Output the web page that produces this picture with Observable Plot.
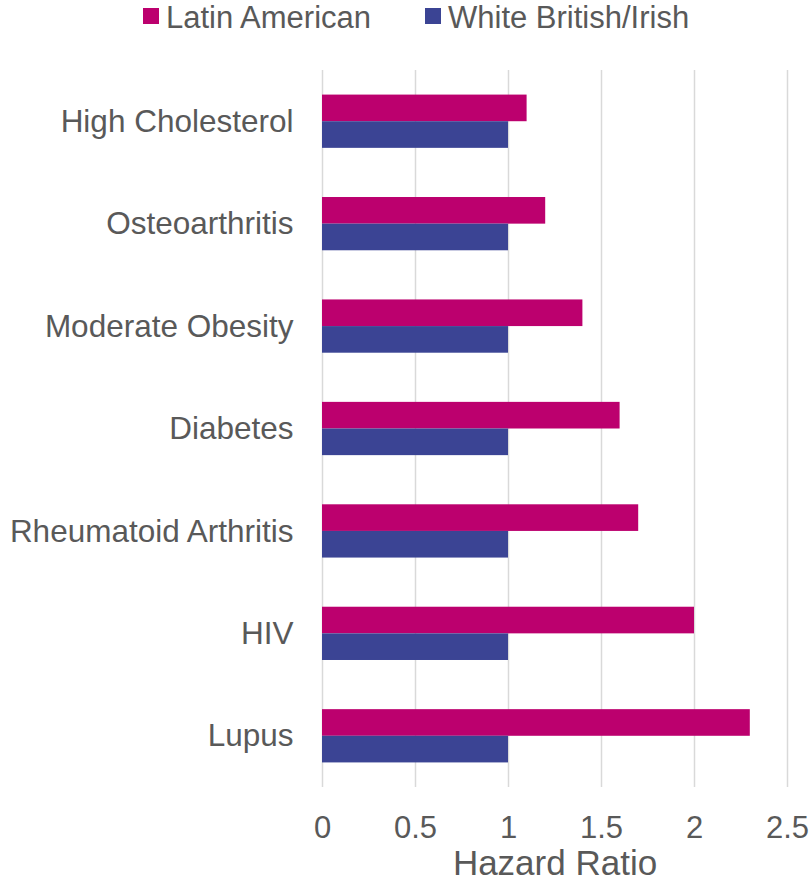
<!DOCTYPE html>
<html>
<head>
<meta charset="utf-8">
<script src="https://cdn.jsdelivr.net/npm/d3@7"></script>
<script src="https://cdn.jsdelivr.net/npm/@observablehq/plot@0.6"></script>
<style>
  html, body { margin: 0; padding: 0; background: #fff; }
  #chart { width: 810px; height: 888px; position: relative; font-family: "Liberation Sans", Arial, sans-serif; color: #595959; }
  #legend { position: relative; height: 40px; }
  #legend .sw { position: absolute; top: 8px; width: 16px; height: 16px; }
  #legend .lb { position: absolute; top: 2px; font-size: 31px; line-height: 1; white-space: nowrap; }
  svg { display: block; }
</style>
</head>
<body>
<div id="chart">
  <div id="legend"></div>
</div>
<script>
// Conditions, top to bottom
const conditions = ["High Cholesterol", "Osteoarthritis", "Moderate Obesity", "Diabetes", "Rheumatoid Arthritis", "HIV", "Lupus"];
// Hazard ratios per group
const latinAmerican = [1.1, 1.2, 1.4, 1.6, 1.7, 2.0, 2.3];
const whiteBritishIrish = [1, 1, 1, 1, 1, 1, 1];
const groups = ["Latin American", "White British/Irish"];
const groupColors = ["#bc006e", "#3b4494"];
const xTicks = [0, 0.5, 1, 1.5, 2, 2.5];

// Each condition occupies one row index; the two bars sit just above and below it
const barHalf = 0.26;
const rows = [];
conditions.forEach((c, i) => {
  rows.push({condition: c, group: groups[0], value: latinAmerican[i], y1: i - barHalf, y2: i});
  rows.push({condition: c, group: groups[1], value: whiteBritishIrish[i], y1: i, y2: i + barHalf});
});

// Legend
const legend = document.getElementById("legend");
const legendLayout = [{sw: 143, lb: 166}, {sw: 425, lb: 448}];
groups.forEach((g, k) => {
  const sw = document.createElement("div");
  sw.className = "sw";
  sw.style.left = legendLayout[k].sw + "px";
  sw.style.background = groupColors[k];
  const lb = document.createElement("div");
  lb.className = "lb";
  lb.style.left = legendLayout[k].lb + "px";
  lb.textContent = g;
  legend.appendChild(sw);
  legend.appendChild(lb);
});

const chart = Plot.plot({
  width: 810,
  height: 848,
  marginTop: 30,
  marginBottom: 101,
  marginLeft: 322,
  marginRight: 23,
  style: {fontFamily: "'Liberation Sans', Arial, sans-serif", color: "#595959", background: "#fff"},
  x: {domain: [0, 2.5]},
  y: {domain: [-0.5, conditions.length - 0.5], reverse: true},
  color: {domain: groups, range: groupColors},
  marks: [
    Plot.gridX(xTicks, {stroke: "#d9d9d9", strokeOpacity: 1, strokeWidth: 1.5}),
    Plot.rectX(rows, {x1: 0, x2: "value", y1: "y1", y2: "y2", fill: "group"}),
    Plot.axisY(d3.range(conditions.length), {
      tickSize: 0, tickPadding: 29, fontSize: 31.5, fill: "#595959",
      tickFormat: (i) => conditions[i], label: null
    }),
    Plot.axisX(xTicks, {
      tickSize: 0, tickPadding: 28, fontSize: 31, fill: "#595959",
      tickFormat: (d) => String(d), label: null
    }),
    Plot.text(["Hazard Ratio"], {
      frameAnchor: "bottom", lineAnchor: "bottom", dy: 87,
      fontSize: 35, fill: "#595959"
    })
  ]
});

document.getElementById("chart").appendChild(chart);
</script>
</body>
</html>
